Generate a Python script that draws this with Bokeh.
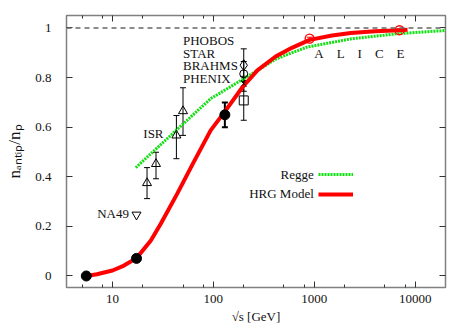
from bokeh.plotting import figure
from bokeh.models import (Range1d, LogAxis, LinearAxis, FixedTicker, Whisker, ColumnDataSource,
                          Span, Label, Legend, LegendItem, TeeHead)
from bokeh.embed import file_html
from bokeh.resources import INLINE

# ---------------- data ----------------
hrg_x = [5.5, 7, 10, 13, 17.3, 24, 30, 44, 64, 94, 132, 194, 273, 414, 600, 900, 1500, 2300, 4000, 7000, 8400]
hrg_y = [0.0, 0.007, 0.022, 0.042, 0.072, 0.143, 0.21, 0.333, 0.46, 0.587, 0.667, 0.761, 0.829, 0.885, 0.92,
         0.952, 0.97, 0.98, 0.987, 0.991, 0.993]

regge_x = [17, 43, 94, 173, 273, 414, 540, 850, 2300, 6700, 20000]
regge_y = [0.437, 0.588, 0.715, 0.78, 0.829, 0.874, 0.893, 0.923, 0.956, 0.977, 0.99]

lat_x = [5.5, 17.3, 130]
lat_y = [0.0, 0.071, 0.65]
lat_err_x = [130]
lat_err_lo = [0.60]
lat_err_hi = [0.70]

isr_x = [22, 27, 43, 50]
isr_y = [0.375, 0.452, 0.567, 0.665]
isr_lo = [0.312, 0.392, 0.473, 0.567]
isr_hi = [0.437, 0.499, 0.647, 0.759]

na49_x = [17.3]
na49_y = [0.247]

phobos_x, phobos_y, phobos_lo, phobos_hi = [200], [0.85], [0.784], [0.916]
star_x, star_y, star_lo, star_hi = [200], [0.815], [0.765], [0.865]
brahms_x, brahms_y, brahms_lo, brahms_hi = [200], [0.775], [0.745], [0.805]
phenix_x, phenix_y, phenix_lo, phenix_hi = [200], [0.708], [0.628], [0.788]

alice_x = [900, 7000]
alice_y = [0.957, 0.991]
alice_lo = [0.951, 0.985]
alice_hi = [0.963, 0.997]

x_major = [10, 100, 1000, 10000]
x_labels = ["10", "100", "1000", "10000"]
x_minor = [5, 8, 20, 50, 80, 200, 500, 800, 2000, 5000, 8000]
y_major = [0, 0.2, 0.4, 0.6, 0.8, 1]
y_labels = ["0", "0.2", "0.4", "0.6", "0.8", "1"]

FONT = "Liberation Serif"

p = figure(x_axis_type="log", x_range=Range1d(3.5, 20000), y_range=Range1d(-0.0464, 1.0504),
           frame_width=379, frame_height=272,
           min_border_left=66, min_border_right=22, min_border_top=15, min_border_bottom=40,
           output_backend="svg", toolbar_location=None)
p.grid.visible = False
p.outline_line_color = "#808080"
p.outline_line_width = 1.5

def style_axis(ax, show_labels):
    ax.axis_line_color = None
    ax.major_tick_in = 6
    ax.major_tick_out = 0
    ax.minor_tick_in = 3
    ax.minor_tick_out = 0
    ax.major_tick_line_color = "#333333"
    ax.minor_tick_line_color = "#333333"
    if show_labels:
        ax.major_label_text_font = FONT
        ax.major_label_text_font_size = "13px"
        ax.major_label_text_color = "#111111"
        ax.axis_label_text_font = FONT
        ax.axis_label_text_font_style = "normal"
        ax.axis_label_text_color = "#111111"
    else:
        ax.major_label_text_font_size = "1px"
        ax.major_label_text_alpha = 0
        ax.major_label_standoff = 0

xb = p.xaxis[0]
xb.ticker = FixedTicker(ticks=x_major, minor_ticks=x_minor)
xb.major_label_overrides = dict(zip(x_major, x_labels))
style_axis(xb, True)
xb.major_label_standoff = 7
xb.axis_label = "\u221as [GeV]"
xb.axis_label_text_font_size = "13px"
xb.axis_label_standoff = 3

yl = p.yaxis[0]
yl.ticker = FixedTicker(ticks=y_major, minor_ticks=[])
yl.major_label_overrides = dict(zip(y_major, y_labels))
style_axis(yl, True)
yl.major_label_standoff = 15
yl.axis_label = "n\u2090\u2099\u209c\u1d62\u209a/n\u209a"
yl.axis_label_text_font_size = "17px"
yl.axis_label_standoff = 8

xt = LogAxis(ticker=FixedTicker(ticks=x_major, minor_ticks=x_minor))
style_axis(xt, False)
p.add_layout(xt, "above")
yr = LinearAxis(ticker=FixedTicker(ticks=y_major, minor_ticks=[]))
style_axis(yr, False)
p.add_layout(yr, "right")

p.add_layout(Span(location=1, dimension="width", line_color="#666666", line_dash="5 4", line_width=1.3))

regge = p.line(regge_x, regge_y, line_color="#11e011", line_width=3, line_dash="2 1")
hrg = p.line(hrg_x, hrg_y, line_color="#ff0000", line_width=4)

def whisk(xs, lo, hi, color="black", width=1):
    src = ColumnDataSource(dict(x=xs, lo=lo, hi=hi))
    p.add_layout(Whisker(source=src, base="x", lower="lo", upper="hi", line_color=color, line_width=width,
                         upper_head=TeeHead(size=6, line_color=color, line_width=width),
                         lower_head=TeeHead(size=6, line_color=color, line_width=width)))

whisk(lat_err_x, lat_err_lo, lat_err_hi, width=2)
whisk(isr_x, isr_lo, isr_hi)
for xs, lo, hi in [(phobos_x, phobos_lo, phobos_hi), (star_x, star_lo, star_hi),
                   (brahms_x, brahms_lo, brahms_hi), (phenix_x, phenix_lo, phenix_hi)]:
    whisk(xs, lo, hi)
whisk(alice_x, alice_lo, alice_hi, color="#ff0000")

p.scatter(lat_x, lat_y, marker="circle", size=10, fill_color="black", line_color="black")
p.scatter(isr_x, isr_y, marker="triangle", size=9, fill_color=None, line_color="black")
p.scatter(na49_x, na49_y, marker="inverted_triangle", size=9, fill_color=None, line_color="black")
p.scatter(phobos_x, phobos_y, marker="diamond", size=11, fill_color=None, line_color="black")
p.scatter(star_x, star_y, marker="circle", size=8, fill_color=None, line_color="black")
p.scatter(brahms_x, brahms_y, marker="x", size=5, line_color="black")
p.scatter(phenix_x, phenix_y, marker="square", size=9, fill_color=None, line_color="black")
p.scatter(alice_x, alice_y, marker="circle", size=9, fill_color=None, line_color="#ff0000", line_width=1.3)

def lab(text, x, y, align="left", size="13px", **kw):
    p.add_layout(Label(x=x, y=y, text=text, text_font=FONT, text_font_size=size, text_align=align,
                       text_baseline="middle", text_color="#111111", **kw))

for t, yy in [("PHOBOS", 0.948), ("STAR", 0.898), ("BRAHMS", 0.847), ("PHENIX", 0.797)]:
    lab(t, 50, yy)
lab("ISR", 20.2, 0.573)
lab("NA49", 7.05, 0.251)
lab("A\u2003L\u2003I\u2003C\u2003E", 1000, 0.898)

# legend: samples from Bokeh's legend, texts placed to their left
leg = Legend(items=[LegendItem(label=" ", renderers=[regge]), LegendItem(label=" ", renderers=[hrg])],
             location=(252, 85), glyph_width=35, glyph_height=16, label_height=16, spacing=4,
             label_standoff=0, label_text_font=FONT, label_text_font_size="13px",
             padding=0, margin=0, border_line_color=None, background_fill_alpha=0)
p.add_layout(leg)
for t, yy in [("Regge", 0.411), ("HRG Model", 0.331)]:
    lab(t, 990, yy, align="right")

open("out.html", "w").write(file_html(p, INLINE))
